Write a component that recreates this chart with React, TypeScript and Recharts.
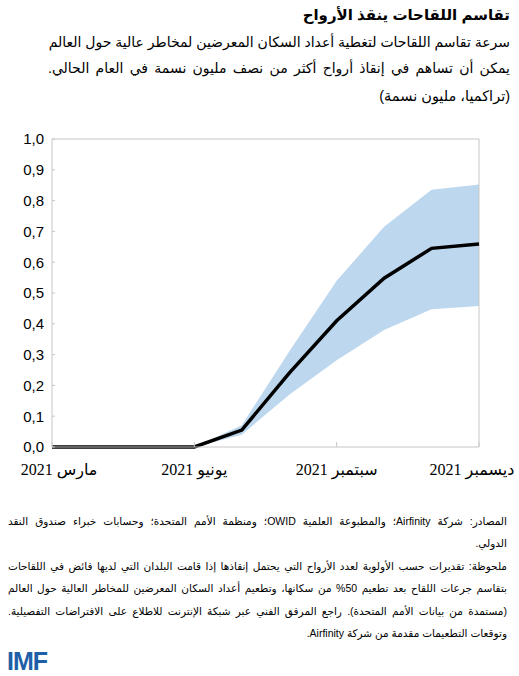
import React from "react";
import {Area, ComposedChart, Line, ReferenceLine, XAxis, YAxis} from "recharts";

const months = [
    'مارس 2021', 'أبريل 2021', 'مايو 2021', 'يونيو 2021', 'يوليو 2021',
    'أغسطس 2021', 'سبتمبر 2021', 'أكتوبر 2021', 'نوفمبر 2021', 'ديسمبر 2021',
];
const central = [0, 0, 0, 0, 0.055, 0.24, 0.41, 0.548, 0.645, 0.659];
const lower = [0, 0, 0, 0, 0.04, 0.17, 0.282, 0.38, 0.447, 0.458];
const upper = [0, 0, 0, 0, 0.071, 0.31, 0.54, 0.715, 0.835, 0.852];
const yTicks = [0, 0.1, 0.2, 0.3, 0.4, 0.5, 0.6, 0.7, 0.8, 0.9, 1.0];

const title = 'تقاسم اللقاحات ينقذ الأرواح';
const subtitle = [
    'سرعة تقاسم اللقاحات لتغطية أعداد السكان المعرضين لمخاطر عالية حول العالم',
    'يمكن أن تساهم في إنقاذ أرواح أكثر من نصف مليون نسمة في العام الحالي.',
];
const units = '(تراكميا، مليون نسمة)';
const notes = [
    'المصادر: شركة Airfinity؛ والمطبوعة العلمية OWID؛ ومنظمة الأمم المتحدة؛ وحسابات خبراء صندوق النقد',
    'الدولي.',
    'ملحوظة: تقديرات حسب الأولوية لعدد الأرواح التي يحتمل إنقاذها إذا قامت البلدان التي لديها فائض في اللقاحات',
    'بتقاسم جرعات اللقاح بعد تطعيم 50% من سكانها، وتطعيم أعداد السكان المعرضين للمخاطر العالية حول العالم',
    '(مستمدة من بيانات الأمم المتحدة). راجع المرفق الفني عبر شبكة الإنترنت للاطلاع على الافتراضات التفصيلية.',
    'وتوقعات التطعيمات مقدمة من شركة Airfinity.',
];
// which note lines end a paragraph (not stretched)
const noteLast = [false, true, false, false, false, true];

const sans = 'Arial, "Liberation Sans", "DejaVu Sans", sans-serif';
const serif = '"Times New Roman", "Liberation Serif", "DejaVu Sans", serif';
const frame = '#c6c6c6';

const data = months.map((m, i) => ({
    month: m,
    value: central[i],
    band: [lower[i], upper[i]],
}));

const XTick = (props: any) => {
    const {x, y, payload} = props;
    // nudge the two end labels inward a little
    const shift = payload.value === months[0] ? 7 : payload.value === months[months.length - 1] ? -7 : 0;
    return (
        <text x={x + shift} y={y} dy="0.71em" textAnchor="middle" fontFamily={serif} fontSize={16} fill="#000">
            {payload.value}
        </text>
    );
};

const line = (top: number, text: string, style: React.CSSProperties) => (
    <div key={top} style={{position: 'absolute', top, direction: 'rtl', whiteSpace: 'nowrap', ...style}}>{text}</div>
);

export default function App() {
    return (
        <div style={{position: 'absolute', left: 0, top: 0, width: 519, height: 676, background: '#fff', fontFamily: sans, color: '#000'}}>
            {line(4, title, {right: 9, fontSize: 15, fontWeight: 'bold', lineHeight: '22px'})}
            {line(30, subtitle[0], {right: 9, width: 458, fontSize: 14, lineHeight: '24px', textAlign: 'justify', textAlignLast: 'justify'})}
            {line(56, subtitle[1], {right: 9, width: 462, fontSize: 14, lineHeight: '24px', textAlign: 'justify', textAlignLast: 'justify'})}
            {line(86, units, {right: 9, fontSize: 14.5, lineHeight: '20px'})}

            <div style={{position: 'absolute', left: 0, top: 120}}>
                <ComposedChart width={519} height={370} data={data} margin={{top: 19, right: 40, bottom: 13, left: 0}}>
                    <XAxis
                        dataKey="month"
                        scale="point"
                        padding={{left: 0, right: 0}}
                        interval={2}
                        height={30}
                        axisLine={{stroke: frame}}
                        tickLine={{stroke: frame}}
                        tickSize={-5}
                        tickMargin={22}
                        tick={<XTick />}
                    />
                    <YAxis
                        type="number"
                        domain={[0, 1]}
                        ticks={yTicks}
                        width={52}
                        axisLine={{stroke: frame}}
                        tickLine={{stroke: frame}}
                        tickSize={-3}
                        tickMargin={11}
                        tick={{fontFamily: sans, fontSize: 15, fill: '#000'}}
                        tickFormatter={(v: number) => v.toFixed(1).replace('.', ',')}
                    />
                    <ReferenceLine y={1} stroke={frame} />
                    <ReferenceLine x={months[months.length - 1]} stroke={frame} />
                    <Area
                        type="linear"
                        dataKey="band"
                        stroke="none"
                        fill="#bdd7ee"
                        fillOpacity={1}
                        isAnimationActive={false}
                    />
                    <Line
                        type="linear"
                        dataKey="value"
                        stroke="#000"
                        strokeWidth={3.5}
                        dot={false}
                        isAnimationActive={false}
                    />
                </ComposedChart>
            </div>

            {notes.map((t, i) => line(510 + i * 22.4, t, {
                right: 12,
                width: 499,
                fontSize: 10.5,
                lineHeight: '22px',
                textAlign: noteLast[i] ? 'right' : 'justify',
                textAlignLast: noteLast[i] ? 'auto' : 'justify',
            }))}

            <div style={{position: 'absolute', left: 7, top: 646, fontSize: 25, fontWeight: 'bold', color: '#1f5fa8', letterSpacing: -1, lineHeight: '30px'}}>
                IMF
            </div>
        </div>
    );
}
